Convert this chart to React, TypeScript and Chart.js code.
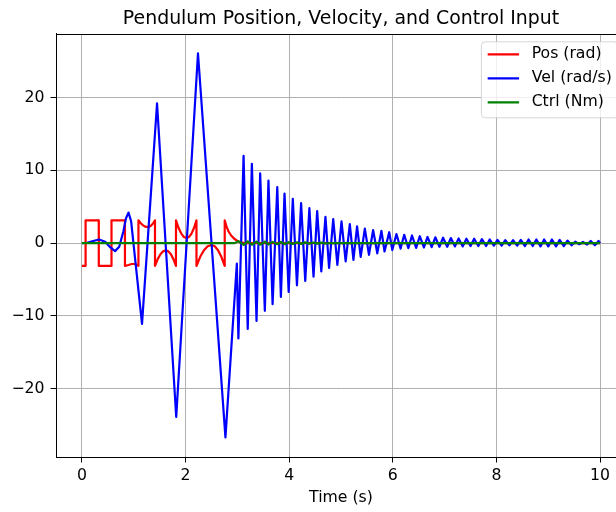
import React, { useEffect, useRef } from 'react';
import { Chart, registerables } from 'chart.js';

Chart.register(...registerables);

const TITLE = 'Pendulum Position, Velocity, and Control Input';
const X_LABEL = 'Time (s)';
const SERIES_LABELS = ['Pos (rad)', 'Vel (rad/s)', 'Ctrl (Nm)'];
const SERIES_COLORS = ['#ff0000', '#0000ff', '#008000'];
const X_TICKS = [0, 2, 4, 6, 8, 10];
const Y_TICKS = [-20, -10, 0, 10, 20];

// Position (rad)
const posT = [
  0.00, 0.07, 0.071, 0.325, 0.326, 0.57, 0.571, 0.83, 0.831, 0.90,
  0.96, 1.02, 1.06, 1.09, 1.091, 1.135, 1.18, 1.225, 1.27, 1.305,
  1.34, 1.375, 1.41, 1.411, 1.4625, 1.515, 1.5675, 1.62, 1.669, 1.7175,
  1.766, 1.815, 1.816, 1.866, 1.9175, 1.969, 2.02, 2.0675, 2.115, 2.1625,
  2.21, 2.211, 2.2825, 2.355, 2.4275, 2.50, 2.564, 2.6275, 2.691, 2.755,
  2.756, 2.79, 2.83, 2.88, 2.94, 3.00, 3.06, 3.15, 10.00,
];
const posV = [
  -3.14, -3.14, 3.14, 3.14, -3.14, -3.14, 3.14, 3.14, -3.14, -3.0,
  -2.87, -2.87, -2.97, -3.14, 3.14, 2.73, 2.44, 2.26, 2.2, 2.26,
  2.44, 2.73, 3.14, -3.14, -2.2, -1.54, -1.13, -1.0, -1.13, -1.54,
  -2.2, -3.14, 3.14, 2.07, 1.31, 0.85, 0.7, 0.85, 1.31, 2.07,
  3.14, -3.14, -1.88, -0.97, -0.43, -0.25, -0.43, -0.97, -1.88, -3.14,
  3.14, 2.3, 1.6, 1.05, 0.6, 0.3, 0.1, 0.0, 0.0,
];

// Velocity (rad/s)
const velT = [
  0.00, 0.10, 0.20, 0.33, 0.45, 0.55, 0.64, 0.72, 0.80, 0.85,
  0.90, 0.95, 1.16, 1.45, 1.82, 2.24, 2.77, 2.99, 3.02, 3.12,
  3.20, 3.28, 3.37, 3.44, 3.53, 3.60, 3.68, 3.77, 3.84, 3.91,
  3.99, 4.07, 4.15, 4.23, 4.31, 4.39, 4.47, 4.54, 4.62, 4.70,
  4.77, 4.85, 4.93, 5.01, 5.09, 5.17, 5.24, 5.31, 5.38, 5.46,
  5.54, 5.62, 5.70, 5.78, 5.84, 5.93, 5.99, 6.07, 6.15, 6.22,
  6.30, 6.37, 6.45, 6.52, 6.60, 6.67, 6.75, 6.82, 6.90, 6.97,
  7.05, 7.12, 7.20, 7.27, 7.35, 7.42, 7.50, 7.57, 7.65, 7.72,
  7.80, 7.87, 7.95, 8.02, 8.10, 8.17, 8.25, 8.32, 8.40, 8.47,
  8.55, 8.62, 8.70, 8.77, 8.85, 8.92, 9.00, 9.07, 9.15, 9.22,
  9.30, 9.37, 9.45, 9.52, 9.60, 9.67, 9.75, 9.82, 9.90, 9.97,
  10.00,
];
const velV = [
  0.0, 0.05, 0.25, 0.5, 0.2, -0.6, -1.1, -0.5, 1.6, 3.4,
  4.2, 3.0, -11.1, 19.2, -23.9, 26.1, -26.7, -2.8, -13.1, 12.0,
  -11.8, 10.9, -10.7, 9.6, -9.3, 8.6, -8.4, 7.7, -7.4, 6.8,
  -6.7, 6.1, -5.8, 5.5, -5.2, 4.8, -4.6, 4.4, -3.9, 3.6,
  -3.4, 3.3, -3.0, 3.0, -2.5, 2.6, -2.3, 2.3, -1.9, 2.0,
  -1.6, 1.8, -1.4, 1.7, -1.15, 1.5, -0.95, 1.25, -0.75, 1.15,
  -0.7, 1.05, -0.65, 0.95, -0.6, 0.85, -0.55, 0.8, -0.5, 0.75,
  -0.5, 0.7, -0.45, 0.65, -0.45, 0.6, -0.4, 0.6, -0.4, 0.55,
  -0.4, 0.5, -0.35, 0.45, -0.35, 0.4, -0.3, 0.4, -0.35, 0.45,
  -0.4, 0.5, -0.4, 0.5, -0.45, 0.5, -0.45, 0.5, -0.45, 0.45,
  -0.4, 0.35, -0.3, 0.2, -0.15, 0.15, -0.2, 0.3, -0.3, 0.3,
  0.0,
];

// Control (Nm)
const ctrlT = [
  0.00, 2.95, 3.02, 3.12, 3.20, 3.28, 3.37, 3.44, 3.53, 3.60,
  3.68, 3.77, 3.84, 3.91, 3.99, 4.07, 4.15, 4.23, 4.31, 4.39,
  4.47, 4.54, 4.62, 4.70, 4.80, 10.00,
];
const ctrlV = [
  0, 0, 0.28, -0.25, 0.25, -0.22, 0.21, -0.2, 0.19, -0.18,
  0.17, -0.15, 0.15, -0.14, 0.13, -0.12, 0.11, -0.1, 0.1, -0.09,
  0.08, -0.07, 0.06, -0.05, 0, 0,
];

const CANVAS_W = 640;
const CANVAS_H = 512;
const FONT = "'DejaVu Sans', sans-serif";
const TICK_SIZE = 15.7;

const toPoints = (t: number[], v: number[]) => t.map((x, i) => ({ x, y: v[i] }));
const fmt = (v: number) => (v < 0 ? '\u2212' + Math.abs(v) : String(v));

export default function App() {
  const ref = useRef<HTMLCanvasElement>(null);

  useEffect(() => {
    const canvas = ref.current;
    if (!canvas) return;

    const framePlugin = {
      id: 'frame',
      afterDatasetsDraw(chart: any) {
        const { ctx, chartArea } = chart;
        ctx.save();
        ctx.strokeStyle = '#000';
        ctx.lineWidth = 1;
        const l = Math.round(chartArea.left) + 0.5;
        const t = Math.round(chartArea.top) + 0.5;
        const r = Math.round(chartArea.right) + 0.5;
        const b = Math.round(chartArea.bottom) + 0.5;
        ctx.strokeRect(l, t, r - l, b - t);
        ctx.restore();
      },
    };

    const legendPlugin = {
      id: 'boxLegend',
      afterDraw(chart: any) {
        const { ctx, chartArea } = chart;
        const fs = TICK_SIZE;
        ctx.save();
        ctx.font = `${fs}px ${FONT}`;
        const tw = Math.max(...SERIES_LABELS.map((l) => ctx.measureText(l).width));
        const pad = 0.4 * fs;
        const hl = 2 * fs;
        const htp = 0.8 * fs;
        const right = chartArea.right - 0.5 * fs;
        const top = chartArea.top + 0.5 * fs;
        const w = pad * 2 + hl + htp + tw;
        const h = 76;
        const left = right - w;
        const rad = 4;
        ctx.beginPath();
        ctx.moveTo(left + rad, top);
        ctx.lineTo(right - rad, top);
        ctx.arcTo(right, top, right, top + rad, rad);
        ctx.lineTo(right, top + h - rad);
        ctx.arcTo(right, top + h, right - rad, top + h, rad);
        ctx.lineTo(left + rad, top + h);
        ctx.arcTo(left, top + h, left, top + h - rad, rad);
        ctx.lineTo(left, top + rad);
        ctx.arcTo(left, top, left + rad, top, rad);
        ctx.closePath();
        ctx.fillStyle = 'rgba(255,255,255,0.8)';
        ctx.fill();
        ctx.strokeStyle = 'rgba(204,204,204,0.8)';
        ctx.lineWidth = 1;
        ctx.stroke();
        SERIES_LABELS.forEach((label, i) => {
          const y = top + 12.5 + i * 24;
          ctx.beginPath();
          ctx.strokeStyle = SERIES_COLORS[i];
          ctx.lineWidth = 2.2;
          ctx.moveTo(left + pad, y);
          ctx.lineTo(left + pad + hl, y);
          ctx.stroke();
          ctx.fillStyle = '#000';
          ctx.textBaseline = 'middle';
          ctx.textAlign = 'left';
          ctx.fillText(label, left + pad + hl + htp, y);
        });
        ctx.restore();
      },
    };

    const lineDs = (i: number, data: any[], order: number) => ({
      label: SERIES_LABELS[i],
      data,
      borderColor: SERIES_COLORS[i],
      backgroundColor: SERIES_COLORS[i],
      borderWidth: 2.2,
      pointRadius: 0,
      pointHoverRadius: 0,
      tension: 0,
      fill: false,
      borderJoinStyle: 'round' as const,
      order,
    });

    const chart = new Chart(canvas, {
      type: 'line',
      data: {
        datasets: [
          lineDs(0, toPoints(posT, posV), 3),
          lineDs(1, toPoints(velT, velV), 2),
          lineDs(2, toPoints(ctrlT, ctrlV), 1),
        ],
      },
      options: {
        responsive: false,
        animation: false,
        events: [],
        layout: { padding: { left: 0, right: CANVAS_W - 626, top: 0, bottom: 0 } },
        plugins: {
          legend: { display: false },
          tooltip: { enabled: false },
          title: {
            display: true,
            text: TITLE,
            fullSize: false,
            color: '#000',
            font: { family: FONT, size: 18.9, weight: 'normal', lineHeight: 1.2 },
            padding: { top: 7.7, bottom: 3.6 },
          },
        },
        scales: {
          x: {
            type: 'linear',
            min: -0.5,
            max: 10.5,
            afterBuildTicks: (s: any) => {
              s.ticks = X_TICKS.map((value) => ({ value }));
            },
            afterFit: (s: any) => {
              s.height = 55;
            },
            grid: {
              color: '#b0b0b0',
              lineWidth: 1,
              drawTicks: true,
              tickLength: 5.5,
              tickColor: '#000',
              tickWidth: 1,
            },
            border: { display: true, color: '#000', width: 1 },
            ticks: {
              color: '#000',
              font: { family: FONT, size: TICK_SIZE },
              padding: 4,
              maxRotation: 0,
              autoSkip: false,
              callback: (v: any) => fmt(Number(v)),
            },
            title: {
              display: true,
              text: X_LABEL,
              color: '#000',
              font: { family: FONT, size: TICK_SIZE },
              padding: { top: 2, bottom: 4.6 },
            },
          },
          y: {
            type: 'linear',
            min: -29.4,
            max: 28.75,
            afterBuildTicks: (s: any) => {
              s.ticks = Y_TICKS.map((value) => ({ value }));
            },
            afterFit: (s: any) => {
              s.width = 56;
            },
            grid: {
              color: '#b0b0b0',
              lineWidth: 1,
              drawTicks: true,
              tickLength: 5.5,
              tickColor: '#000',
              tickWidth: 1,
            },
            border: { display: true, color: '#000', width: 1 },
            ticks: {
              color: '#000',
              font: { family: FONT, size: TICK_SIZE },
              padding: 6,
              autoSkip: false,
              callback: (v: any) => fmt(Number(v)),
            },
          },
        },
      } as any,
      plugins: [framePlugin, legendPlugin],
    });

    return () => chart.destroy();
  }, []);

  return (
    <div
      style={{
        position: 'fixed',
        left: 0,
        top: 0,
        width: 616,
        height: 512,
        overflow: 'hidden',
        background: '#fff',
      }}
    >
      <canvas
        ref={ref}
        width={CANVAS_W}
        height={CANVAS_H}
        style={{ display: 'block', width: CANVAS_W, height: CANVAS_H }}
      />
    </div>
  );
}
